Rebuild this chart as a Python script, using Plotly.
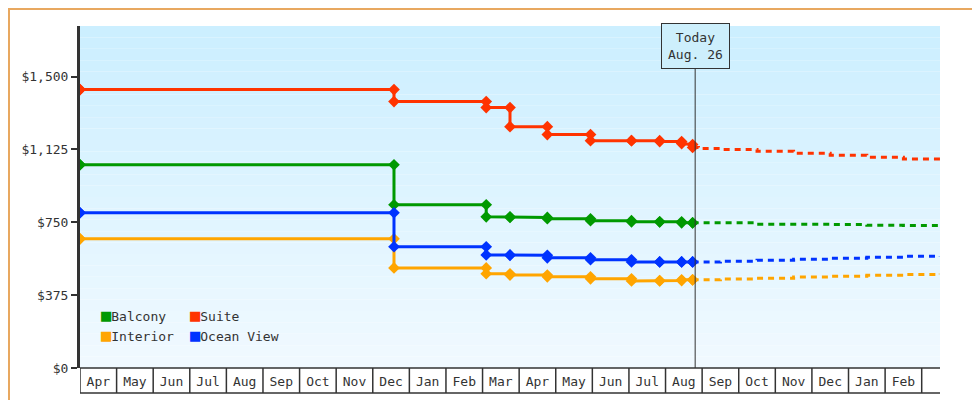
import plotly.graph_objects as go

# x positions in months since the start of April (0 = Apr 1)
months = ["Apr", "May", "Jun", "Jul", "Aug", "Sep", "Oct", "Nov", "Dec", "Jan", "Feb", "Mar",
          "Apr", "May", "Jun", "Jul", "Aug", "Sep", "Oct", "Nov", "Dec", "Jan", "Feb"]
today_x = 16.81
y_ticks = [0, 375, 750, 1125, 1500]
y_labels = ["$0", "$375", "$750", "$1,125", "$1,500"]

hist_x = [0, 8.58, 11.1, 11.75, 12.77, 13.95, 15.07, 15.84, 16.44, 16.74]
suite_old = [1433, 1433, 1371, 1340, 1242, 1201, 1170, 1170, 1165, 1150]
suite_new = [1433, 1371, 1340, 1242, 1201, 1170, 1170, 1165, 1155, 1135]
balcony_old = [1046, 1046, 840, 778, 775, 768, 758, 752, 752, 747]
balcony_new = [1046, 840, 778, 775, 768, 758, 752, 752, 747, 747]
ocean_old = [799, 799, 624, 582, 580, 567, 557, 546, 546, 546]
ocean_new = [799, 624, 582, 580, 567, 557, 546, 546, 546, 546]
interior_old = [665, 665, 515, 485, 478, 469, 459, 448, 450, 454]
interior_new = [665, 515, 485, 478, 469, 459, 448, 450, 454, 454]

fc_x = [16.9, 17.5, 18.5, 19.5, 20.5, 21.5, 22.5, 23.5]
suite_fc = [1130, 1125, 1115, 1105, 1095, 1085, 1075, 1067]
balcony_fc = [747, 747, 740, 740, 738, 735, 733, 732]
ocean_fc = [546, 550, 555, 560, 565, 570, 575, 577]
interior_fc = [454, 458, 462, 468, 472, 477, 481, 485]

series = [
    ("Balcony", "#009900", balcony_old, balcony_new, balcony_fc),
    ("Suite", "#ff3300", suite_old, suite_new, suite_fc),
    ("Interior", "#ffa500", interior_old, interior_new, interior_fc),
    ("Ocean View", "#0033ff", ocean_old, ocean_new, ocean_fc),
]

fig = go.Figure()
for name, col, old, new, fc in series:
    xs, ys = [], []
    for i, x in enumerate(hist_x):
        xs += [x, x]
        ys += [old[i], new[i]]
    fig.add_trace(go.Scatter(x=xs, y=ys, mode="lines+markers", line=dict(color=col, width=3),
                             marker=dict(symbol="diamond", size=9, color=col), showlegend=False))
    fig.add_trace(go.Scatter(x=[hist_x[-1]] + fc_x, y=[new[-1]] + fc, mode="lines", line_shape="hv",
                             line=dict(color=col, width=3, dash="6px,5px"), showlegend=False))

shapes = []
# background gradient
n = 30
for i in range(n):
    t = i / n
    r = int(0xcc + (0xf2 - 0xcc) * t)
    g = int(0xef + (0xfa - 0xef) * t)
    shapes.append(dict(type="rect", xref="paper", yref="paper", x0=0, x1=1,
                       y1=1 - i / n, y0=1 - (i + 1) / n, line_width=0,
                       fillcolor=f"rgb({r},{g},255)", layer="below"))
# month boxes
for i in range(len(months) + 1):
    shapes.append(dict(type="line", xref="x", yref="paper", x0=i, x1=i, y0=-0.073, y1=0,
                       line=dict(color="#333", width=1.5)))
shapes.append(dict(type="line", xref="paper", yref="paper", x0=0, x1=1, y0=-0.073, y1=-0.073,
                   line=dict(color="#333", width=1.5)))
shapes.append(dict(type="line", xref="paper", yref="paper", x0=0, x1=1, y0=0, y1=0,
                   line=dict(color="#333", width=1.5)))
# today line
shapes.append(dict(type="line", xref="x", yref="paper", x0=today_x, x1=today_x, y0=0, y1=0.875,
                   line=dict(color="#333", width=1)))
# outer border
shapes.append(dict(type="rect", xref="paper", yref="paper", x0=-71 / 860, x1=1 + 47 / 860,
                   y0=-39 / 342, y1=1 + 17 / 342, line=dict(color="#e8a860", width=2)))

annotations = [dict(x=today_x, y=0.875, xref="x", yref="paper", yanchor="bottom",
                    text="Today<br>Aug. 26", showarrow=False, bgcolor="#cdeffc",
                    bordercolor="#333", borderwidth=1, borderpad=6,
                    font=dict(family="DejaVu Sans Mono", size=13, color="#333"))]
legend_pos = [(0.022, 0.12), (0.125, 0.12), (0.022, 0.06), (0.125, 0.06)]
for (name, col, *_), (lx, ly) in zip(series, legend_pos):
    annotations.append(dict(x=lx, y=ly, xref="paper", yref="paper", xanchor="left",
                            text=f"<span style='color:{col};font-size:17px'>■</span>{name}",
                            showarrow=False,
                            font=dict(family="DejaVu Sans Mono", size=13, color="#333")))

fig.update_layout(
    width=980, height=400, paper_bgcolor="white", plot_bgcolor="rgba(0,0,0,0)",
    margin=dict(l=72, r=48, t=18, b=40, autoexpand=False),
    shapes=shapes, annotations=annotations,
    font=dict(family="DejaVu Sans Mono", size=13, color="#333"),
    xaxis=dict(range=[0, 23.5], tickvals=[i + 0.5 for i in range(len(months))], ticktext=months,
               showgrid=False, zeroline=False, ticks="", ticklabelstandoff=4, fixedrange=True,
               automargin=False),
    yaxis=dict(range=[0, 1760], tickvals=y_ticks, ticktext=y_labels, automargin=False,
               showgrid=False, zeroline=False, showline=True, linecolor="#333", linewidth=3,
               ticks="outside", ticklen=6, tickwidth=2, tickcolor="#333"),
)
fig.write_html("out.html")
